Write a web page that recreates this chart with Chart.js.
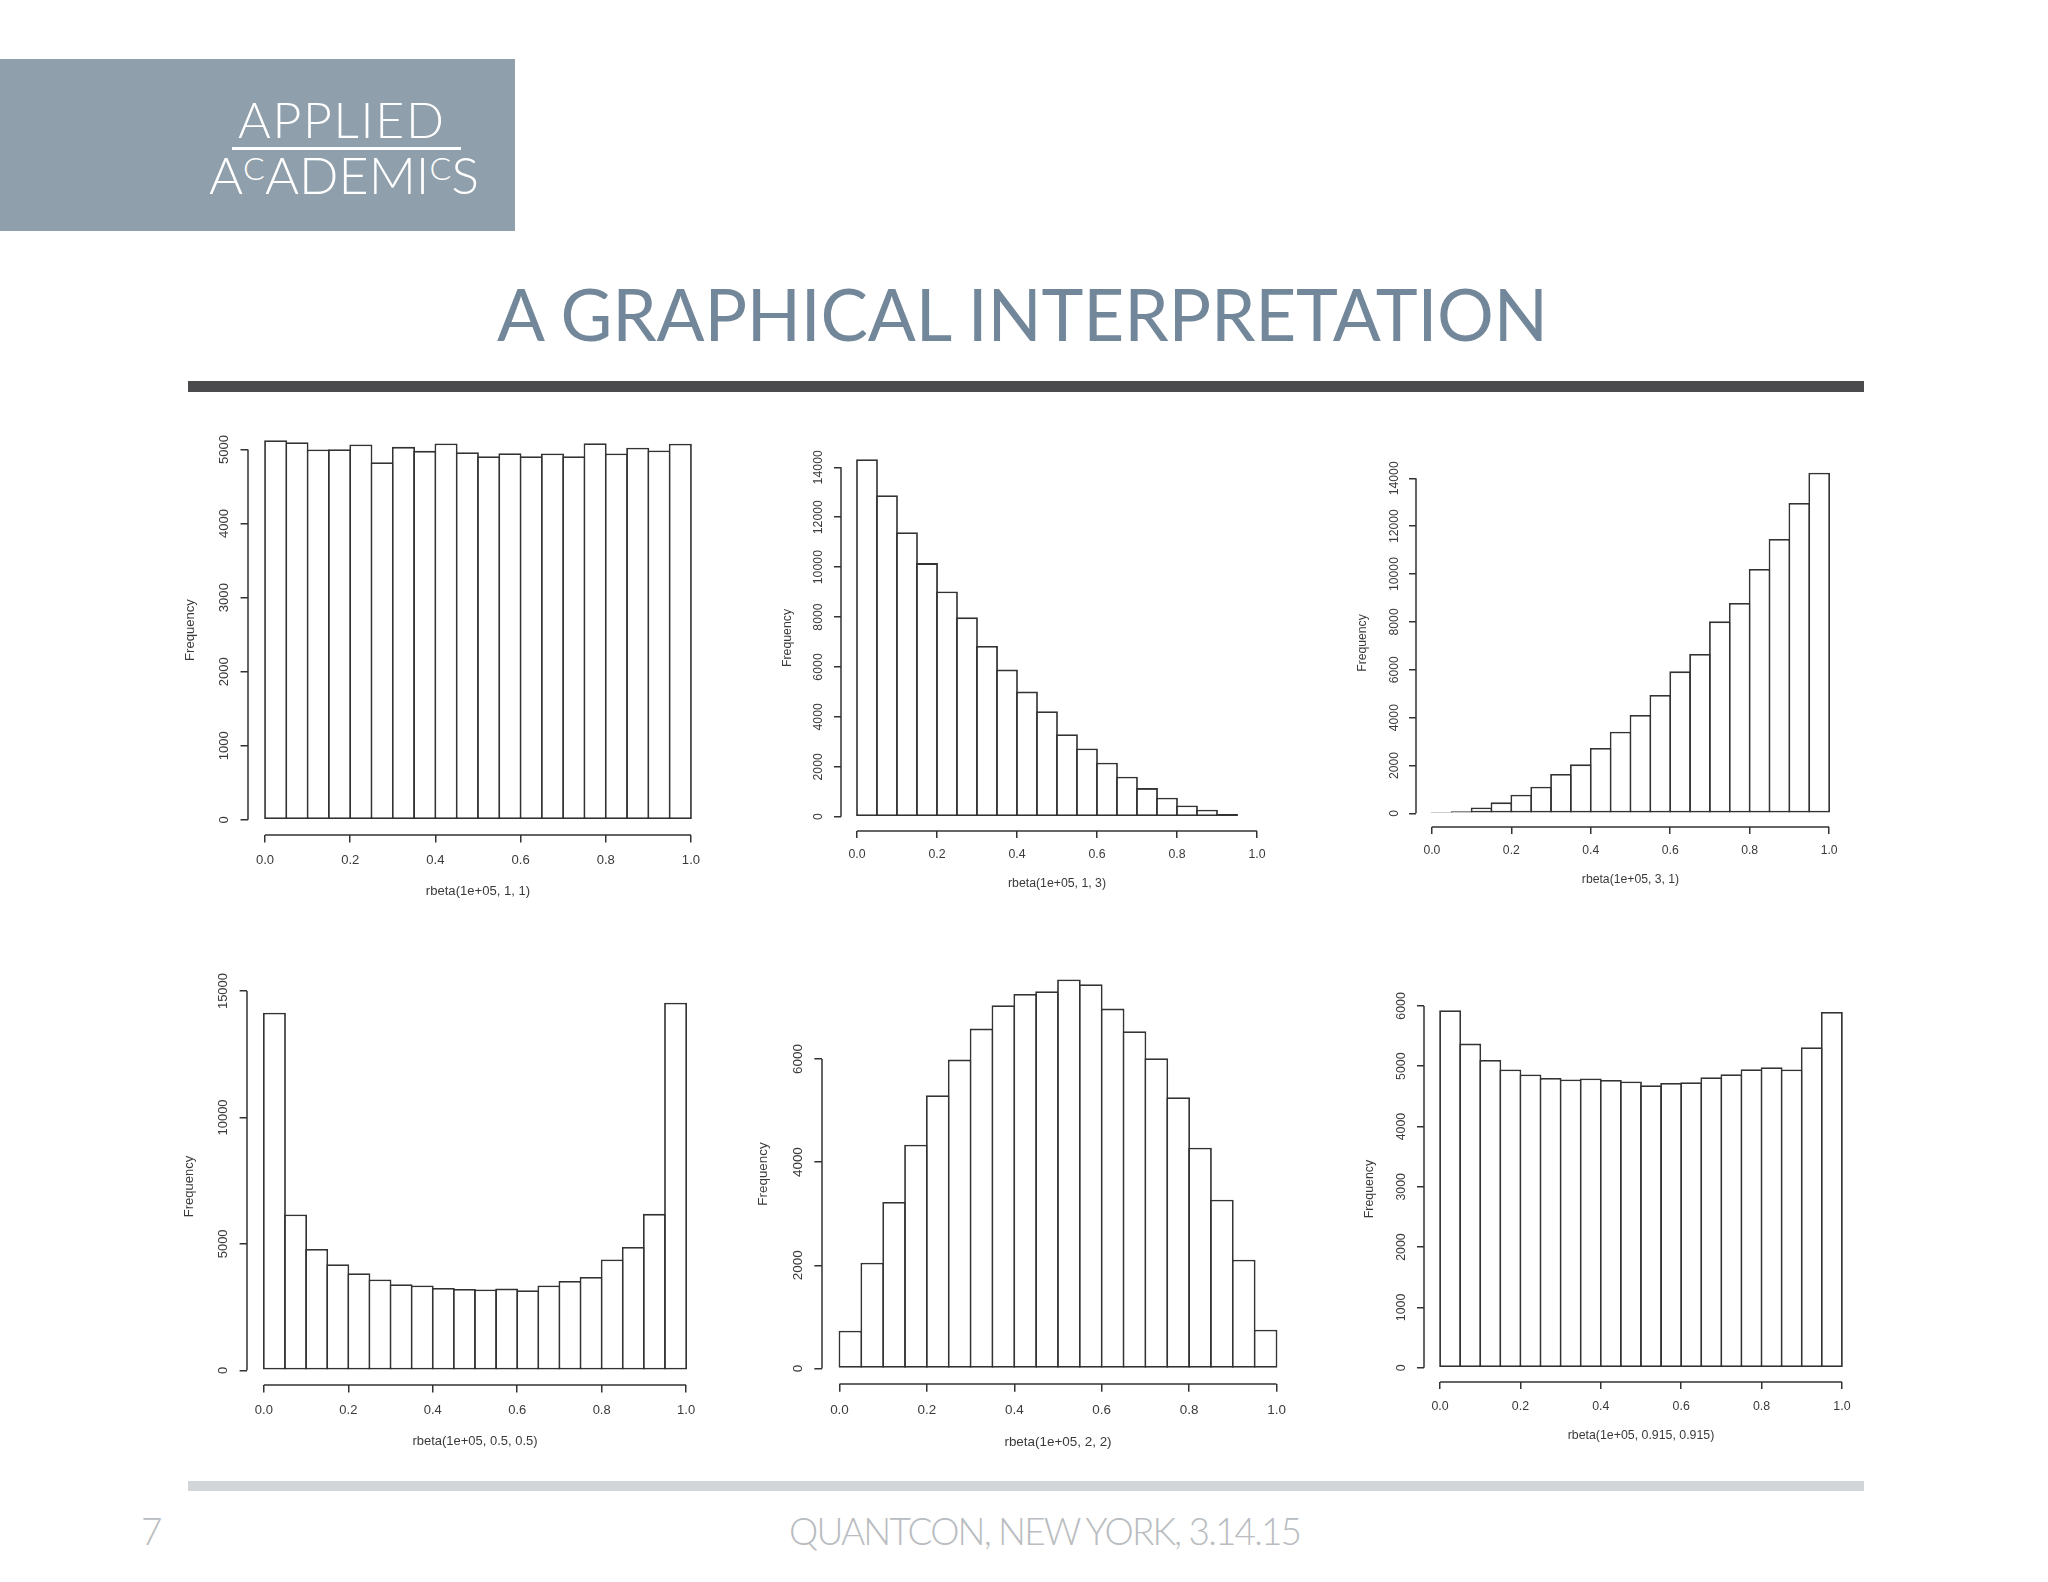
<!DOCTYPE html>
<html>
<head>
<meta charset="utf-8">
<script src="https://cdn.jsdelivr.net/npm/chart.js@4.4.1/dist/chart.umd.min.js"></script>
<style>
  html, body { margin: 0; padding: 0; background: #fff; }
  body { width: 2048px; height: 1582px; position: relative; overflow: hidden; }
  .txt { position: absolute; white-space: nowrap; line-height: 1; font-family: Lato, "Open Sans", sans-serif; }
  #logoBox { position: absolute; left: 0; top: 59px; width: 515px; height: 172px; background: #8f9fab; }
  #logoTop { left: 238px; top: 35px; font-size: 50px; font-weight: 300; color: #fff; }
  #logoRule { position: absolute; left: 232px; top: 88px; width: 229px; height: 3px; background: #fff; }
  #logoBottom { left: 209px; top: 89px; font-size: 52px; font-weight: 300; color: #fff; }
  #logoBottom .sc { font-size: 62%; vertical-align: 0.45em; }
  #title { left: 497px; top: 278px; font-size: 71px; color: #73879a; }
  #barDark { position: absolute; left: 188px; top: 381px; width: 1676px; height: 11px; background: #4b4b4d; }
  #barLight { position: absolute; left: 188px; top: 1481px; width: 1676px; height: 10px; background: #d3d6d9; }
  #pageNum { left: 141px; top: 1512px; font-size: 37px; font-weight: 300; color: #b9bcc0; }
  #footer { left: 789px; top: 1512px; font-size: 37px; font-weight: 300; color: #b9bcc0; }
  canvas { position: absolute; }
</style>
</head>
<body>
<div id="logoBox">
  <div id="logoTop" class="txt">APPLIED</div>
  <div id="logoRule"></div>
  <div id="logoBottom" class="txt">A<span class="sc">C</span>ADEMI<span class="sc">C</span>S</div>
</div>
<div id="title" class="txt">A GRAPHICAL INTERPRETATION</div>
<div id="barDark"></div>
<div id="barLight"></div>
<div id="pageNum" class="txt">7</div>
<div id="footer" class="txt">QUANTCON, NEW YORK, 3.14.15</div>

<canvas id="h11"></canvas>
<canvas id="h13"></canvas>
<canvas id="h31"></canvas>
<canvas id="hHalf"></canvas>
<canvas id="h22"></canvas>
<canvas id="h0915"></canvas>

<script>
// histogram bins and x axis
const binEdges = [0, 0.05, 0.1, 0.15, 0.2, 0.25, 0.3, 0.35, 0.4, 0.45, 0.5,
                  0.55, 0.6, 0.65, 0.7, 0.75, 0.8, 0.85, 0.9, 0.95, 1.0];
const xTicks = [0, 0.2, 0.4, 0.6, 0.8, 1.0];
const xTickLabels = ['0.0', '0.2', '0.4', '0.6', '0.8', '1.0'];

// counts
const freq11 = [5126, 5099, 5000, 5005, 5068, 4829, 5036, 4982, 5081, 4964,
                4910, 4950, 4910, 4946, 4910, 5086, 4946, 5023, 4986, 5077];
const freq13 = [14320, 12880, 11400, 10160, 9027, 7987, 6840, 5893, 5013, 4227,
                3307, 2733, 2160, 1600, 1147, 760, 453, 280, 107, 27];
const freq31 = [14, 84, 250, 460, 780, 1114, 1644, 2048, 2730, 3413,
                4109, 4945, 5934, 6658, 8023, 8790, 10210, 11464, 12969, 14236];
const freqHalf = [14142, 6161, 4802, 4195, 3839, 3588, 3404, 3351, 3259, 3219,
                  3193, 3232, 3166, 3351, 3536, 3694, 4380, 4881, 6187, 14538];
const freq22 = [731, 2050, 3226, 4338, 5295, 5987, 6588, 7041, 7261, 7313,
                7539, 7448, 6976, 6536, 6013, 5256, 4280, 3271, 2108, 750];
const freq0915 = [5928, 5376, 5105, 4945, 4862, 4807, 4779, 4796, 4773, 4746,
                  4685, 4724, 4735, 4818, 4867, 4950, 4983, 4945, 5315, 5901];

const yTicks11 = [0, 1000, 2000, 3000, 4000, 5000];
const yTicks13 = [0, 2000, 4000, 6000, 8000, 10000, 12000, 14000];
const yTicks31 = [0, 2000, 4000, 6000, 8000, 10000, 12000, 14000];
const yTicksHalf = [0, 5000, 10000, 15000];
const yTicks22 = [0, 2000, 4000, 6000];
const yTicks0915 = [0, 1000, 2000, 3000, 4000, 5000, 6000];

const xLabels = ['rbeta(1e+05, 1, 1)', 'rbeta(1e+05, 1, 3)', 'rbeta(1e+05, 3, 1)',
                 'rbeta(1e+05, 0.5, 0.5)', 'rbeta(1e+05, 2, 2)', 'rbeta(1e+05, 0.915, 0.915)'];

// plot regions on the page: [left, top, right, bottom], s = size factor
const panels = [
  { id: 'h11',   values: freq11,   yTicks: yTicks11,   xLabel: xLabels[0], area: [248, 425, 708, 835],   s: 1.065 },
  { id: 'h13',   values: freq13,   yTicks: yTicks13,   xLabel: xLabels[1], area: [841, 445, 1273, 831],  s: 1.0 },
  { id: 'h31',   values: freq31,   yTicks: yTicks31,   xLabel: xLabels[2], area: [1416, 459, 1845, 827], s: 0.993 },
  { id: 'hHalf', values: freqHalf, yTicks: yTicksHalf, xLabel: xLabels[3], area: [247, 988, 703, 1385],  s: 1.055 },
  { id: 'h22',   values: freq22,   yTicks: yTicks22,   xLabel: xLabels[4], area: [822, 964, 1294, 1384], s: 1.093 },
  { id: 'h0915', values: freq0915, yTicks: yTicks0915, xLabel: xLabels[5], area: [1424, 996, 1858, 1382], s: 1.005 }
];

const lineColor = '#333';
const textColor = '#3a3a3a';
const family = '"Liberation Sans", Arial, sans-serif';

// R style axis lines: only from first to last tick
const rAxes = {
  id: 'rAxes',
  afterDraw(chart) {
    const { ctx, chartArea, scales: { x, y } } = chart;
    ctx.save();
    ctx.strokeStyle = lineColor;
    ctx.lineWidth = 1.5;
    ctx.beginPath();
    ctx.moveTo(x.getPixelForValue(x.ticks[0].value), chartArea.bottom);
    ctx.lineTo(x.getPixelForValue(x.ticks[x.ticks.length - 1].value), chartArea.bottom);
    ctx.moveTo(chartArea.left, y.getPixelForValue(y.ticks[0].value));
    ctx.lineTo(chartArea.left, y.getPixelForValue(y.ticks[y.ticks.length - 1].value));
    ctx.stroke();
    ctx.restore();
  }
};

const measure = document.createElement('canvas').getContext('2d');

function makeHist(p) {
  const [L, T, R, B] = p.area;
  const s = p.s;
  const fs = 12.3 * s;
  const tickLen = 7 * s;
  const W = Math.round(54 * s + 0.6 * fs);
  const H = Math.round(53 * s + 0.6 * fs);
  const padL = 8, padT = 20, padR = 20, padB = 8;

  const canvas = document.getElementById(p.id);
  const cw = (R - L) + W + padL + padR;
  const ch = (B - T) + H + padT + padB;
  canvas.width = cw;
  canvas.height = ch;
  canvas.style.width = cw + 'px';
  canvas.style.height = ch + 'px';
  canvas.style.left = (L - W - padL) + 'px';
  canvas.style.top = (T - padT) + 'px';

  const maxVal = Math.max(...p.values);
  const points = p.values.map((v, i) => ({ x: (binEdges[i] + binEdges[i + 1]) / 2, y: v }));
  const binPx = (R - L) / 1.08 * (binEdges[1] - binEdges[0]);
  const lw = 1.8;

  measure.font = fs + 'px ' + family;
  const widest = Math.max(...p.yTicks.map(t => measure.measureText(String(t)).width));
  const yPad = 22 * s - tickLen - widest / 2;

  new Chart(canvas, {
    type: 'bar',
    data: {
      datasets: [{
        data: points,
        backgroundColor: '#fff',
        borderColor: lineColor,
        borderWidth: lw,
        borderSkipped: false,
        inflateAmount: 0,
        barPercentage: 1 + lw / binPx,
        categoryPercentage: 1,
        grouped: false
      }]
    },
    options: {
      responsive: false,
      animation: false,
      devicePixelRatio: 1,
      layout: { padding: { left: padL, top: padT, right: padR, bottom: padB } },
      plugins: { legend: { display: false }, tooltip: { enabled: false } },
      scales: {
        x: {
          type: 'linear',
          min: -0.04,
          max: 1.04,
          offset: false,
          afterBuildTicks: sc => { sc.ticks = xTicks.map(v => ({ value: v })); },
          afterFit: sc => { sc.height = H; },
          grid: { offset: false, drawOnChartArea: false, drawTicks: true, tickLength: tickLen, color: lineColor, lineWidth: 1.5 },
          border: { display: false },
          ticks: {
            autoSkip: false, minRotation: 0, maxRotation: 0,
            padding: 24 * s - tickLen - 0.6 * fs,
            font: { family, size: fs }, color: textColor,
            callback: (v, i) => xTickLabels[i]
          },
          title: { display: true, text: p.xLabel, font: { family, size: fs }, color: textColor, padding: 0 }
        },
        y: {
          min: -0.04 * maxVal,
          max: 1.04 * maxVal,
          afterBuildTicks: sc => { sc.ticks = p.yTicks.map(v => ({ value: v })); },
          afterFit: sc => { sc.width = W; },
          grid: { drawOnChartArea: false, drawTicks: true, tickLength: tickLen, color: lineColor, lineWidth: 1.5 },
          border: { display: false },
          ticks: {
            autoSkip: false, minRotation: 90, maxRotation: 90, crossAlign: 'center',
            padding: yPad,
            font: { family, size: fs }, color: textColor,
            callback: v => String(v)
          },
          title: { display: true, text: 'Frequency', font: { family, size: fs }, color: textColor, padding: 0 }
        }
      }
    },
    plugins: [rAxes]
  });
}

panels.forEach(makeHist);

// stretch slide texts to the widths they have in the slide
function fitText(id, width) {
  const el = document.getElementById(id);
  el.style.letterSpacing = '0px';
  const w0 = el.getBoundingClientRect().width;
  const n = el.textContent.length;
  el.style.letterSpacing = ((width - w0) / (n - 1)) + 'px';
}
fitText('title', 1051);
fitText('footer', 513);
fitText('logoTop', 206);
fitText('logoBottom', 270);
</script>
</body>
</html>
